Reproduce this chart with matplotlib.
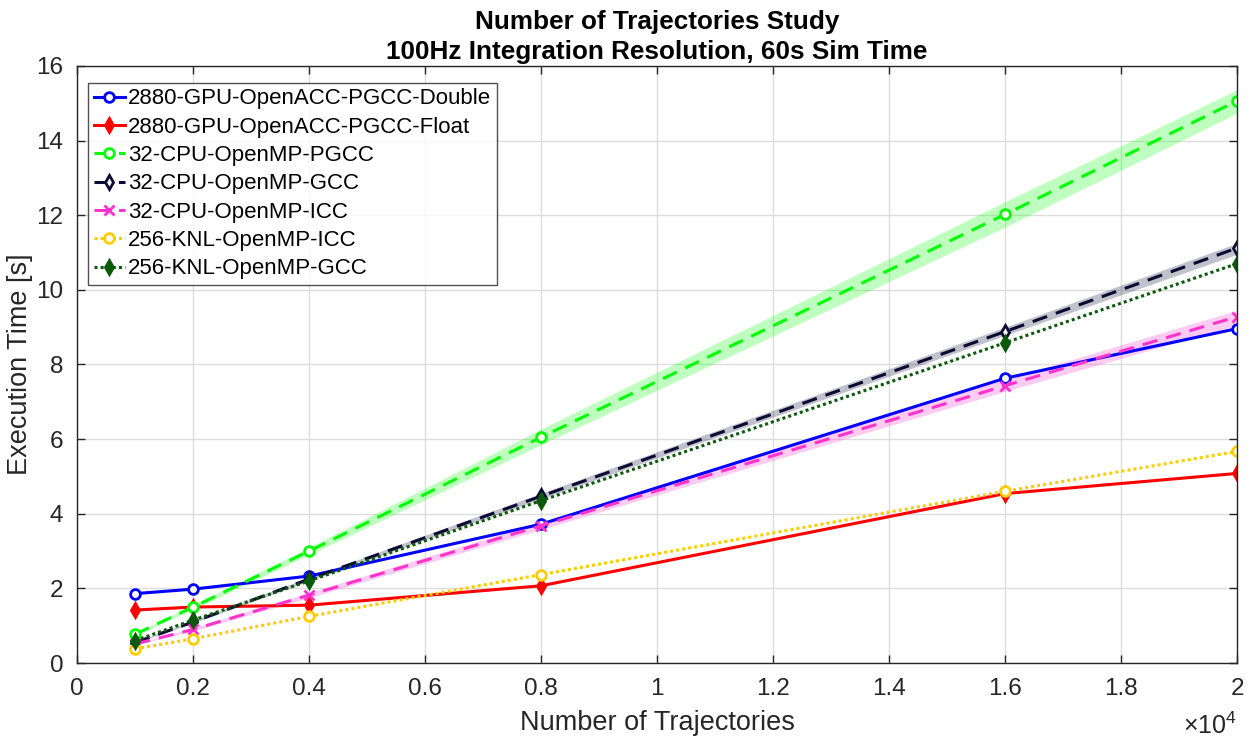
import matplotlib
matplotlib.use("Agg")
import matplotlib.pyplot as plt
from matplotlib.ticker import FuncFormatter, MultipleLocator

plt.rcParams['font.family'] = ['Liberation Sans', 'DejaVu Sans']
plt.rcParams['mathtext.fontset'] = 'custom'
plt.rcParams['mathtext.rm'] = 'Liberation Sans'
plt.rcParams['mathtext.it'] = 'Liberation Sans:italic'

trajectories = [1000, 2000, 4000, 8000, 16000, 20000]

labels = [
    "2880-GPU-OpenACC-PGCC-Double",
    "2880-GPU-OpenACC-PGCC-Float",
    "32-CPU-OpenMP-PGCC",
    "32-CPU-OpenMP-GCC",
    "32-CPU-OpenMP-ICC",
    "256-KNL-OpenMP-ICC",
    "256-KNL-OpenMP-GCC",
]

gpu_double = [1.86, 1.98, 2.33, 3.72, 7.63, 8.96]
gpu_float = [1.42, 1.50, 1.55, 2.07, 4.54, 5.08]
cpu_pgcc = [0.77, 1.50, 3.00, 6.05, 12.02, 15.06]
cpu_gcc = [0.55, 1.10, 2.25, 4.47, 8.88, 11.12]
cpu_icc = [0.51, 0.90, 1.82, 3.68, 7.43, 9.28]
knl_icc = [0.38, 0.65, 1.25, 2.37, 4.60, 5.67]
knl_gcc = [0.60, 1.15, 2.20, 4.35, 8.58, 10.70]

# shaded spread bands (lower / upper)
pgcc_lo = [0.74, 1.44, 2.90, 5.85, 11.68, 14.73]
pgcc_hi = [0.80, 1.56, 3.10, 6.27, 12.36, 15.36]
gcc_lo = [0.53, 1.07, 2.20, 4.40, 8.78, 10.95]
gcc_hi = [0.57, 1.13, 2.30, 4.55, 9.00, 11.25]
icc_lo = [0.49, 0.86, 1.75, 3.58, 7.28, 9.05]
icc_hi = [0.53, 0.94, 1.89, 3.78, 7.60, 9.45]

series = [gpu_double, gpu_float, cpu_pgcc, cpu_gcc, cpu_icc, knl_icc, knl_gcc]
colors = ['#0000FF', '#FF0000', '#00FF00', '#0A0A33', '#FF33CC', '#FFCC00', '#0B5A0B']
styles = ['-', '-', (0, (5, 3)), (0, (5, 3)), (0, (5, 3)), (0, (1, 1)), (0, (1, 1))]
markers = ['o', 'd', 'o', 'd', 'x', 'o', 'd']
mfc = ['white', '#FF0000', 'white', 'white', '#FF33CC', 'white', '#0B5A0B']

fig = plt.figure(figsize=(12.49, 7.40), dpi=100)
ax = fig.add_axes([0.0617, 0.104, 0.9287, 0.807])

ax.fill_between(trajectories, pgcc_lo, pgcc_hi, color='#00FF00', alpha=0.25, lw=0)
ax.fill_between(trajectories, gcc_lo, gcc_hi, color='#0A0A33', alpha=0.25, lw=0)
ax.fill_between(trajectories, icc_lo, icc_hi, color='#FF33CC', alpha=0.25, lw=0)

for y, c, ls, m, fc, lab in zip(series, colors, styles, markers, mfc, labels):
    ax.plot(trajectories, y, color=c, linestyle=ls, marker=m, markersize=7,
            markerfacecolor=fc, markeredgecolor=c, markeredgewidth=2.0,
            linewidth=2.2, label=lab)

ax.set_xlim(0, 20000)
ax.set_ylim(0, 16)
ax.xaxis.set_major_locator(MultipleLocator(2000))
ax.yaxis.set_major_locator(MultipleLocator(2))
ax.xaxis.set_major_formatter(FuncFormatter(lambda v, p: f"{v/1e4:g}"))
ax.grid(True, color='#DDDDDD', linewidth=1.0)
ax.set_axisbelow(True)
ax.tick_params(direction='in', length=6, width=1, labelsize=17.5, colors='#262626',
               top=True, right=True)
ax.tick_params(axis='x', pad=11)
ax.tick_params(axis='y', pad=10)
for s in ax.spines.values():
    s.set_color('#262626')
    s.set_linewidth(1.0)

ax.text(1.0, -0.118, r'$\times10^{4}$', transform=ax.transAxes, ha='right', va='baseline',
        fontsize=18, color='#262626')

ax.set_xlabel('Number of Trajectories', fontsize=19.5, color='#262626', labelpad=7)
ax.set_ylabel('Execution Time [s]', fontsize=19.5, color='#262626', labelpad=2)
ax.set_title('Number of Trajectories Study\n100Hz Integration Resolution, 60s Sim Time',
             fontsize=18.8, fontweight='bold', linespacing=1.32, pad=5)

leg = ax.legend(loc='upper left', bbox_to_anchor=(0.0095, 0.9715), fontsize=16,
                frameon=True, fancybox=False, edgecolor='#262626', borderpad=0.25,
                labelspacing=0.33, handlelength=1.4, handletextpad=0.15,
                borderaxespad=0.0)
leg.get_frame().set_linewidth(1.0)

fig.savefig('out.png', dpi=100)
